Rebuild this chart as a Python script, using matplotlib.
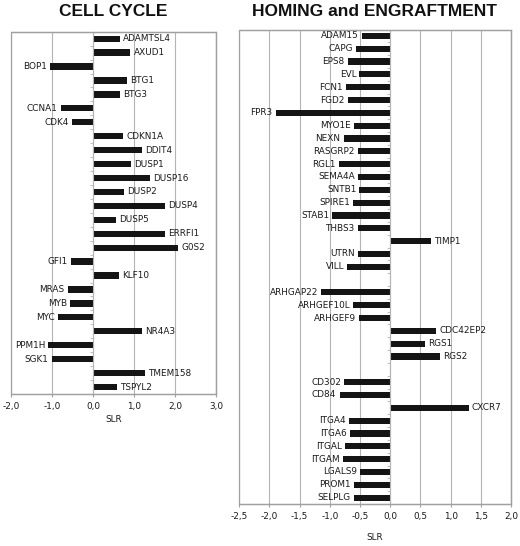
import numpy as np
import matplotlib
matplotlib.use("Agg")
import matplotlib.pyplot as plt
from matplotlib.patches import Rectangle
from matplotlib.ticker import FuncFormatter, MultipleLocator

# ---- data ----
cc_genes = ["ADAMTSL4", "AXUD1", "BOP1", "BTG1", "BTG3", "CCNA1", "CDK4", "CDKN1A",
            "DDIT4", "DUSP1", "DUSP16", "DUSP2", "DUSP4", "DUSP5", "ERRFI1", "G0S2",
            "GFI1", "KLF10", "MRAS", "MYB", "MYC", "NR4A3", "PPM1H", "SGK1",
            "TMEM158", "TSPYL2"]
cc_slr = [0.66, 0.91, -1.04, 0.82, 0.66, -0.78, -0.52, 0.74,
          1.20, 0.93, 1.39, 0.76, 1.76, 0.57, 1.75, 2.07,
          -0.54, 0.64, -0.62, -0.56, -0.85, 1.20, -1.09, -1.01,
          1.26, 0.59]

he_genes = ["ADAM15", "CAPG", "EPS8", "EVL", "FCN1", "FGD2", "FPR3", "MYO1E", "NEXN",
            "RASGRP2", "RGL1", "SEMA4A", "SNTB1", "SPIRE1", "STAB1", "THBS3", "TIMP1",
            "UTRN", "VILL", "",
            "ARHGAP22", "ARHGEF10L", "ARHGEF9", "CDC42EP2", "RGS1", "RGS2", "",
            "CD302", "CD84", "CXCR7", "ITGA4", "ITGA6", "ITGAL", "ITGAM", "LGALS9",
            "PROM1", "SELPLG"]
he_slr = [-0.47, -0.57, -0.70, -0.51, -0.73, -0.70, -1.90, -0.60, -0.77,
          -0.54, -0.85, -0.53, -0.51, -0.61, -0.96, -0.54, 0.67,
          -0.54, -0.71, np.nan,
          -1.14, -0.61, -0.52, 0.76, 0.57, 0.82, np.nan,
          -0.76, -0.84, 1.30, -0.69, -0.66, -0.75, -0.79, -0.50,
          -0.60, -0.60]

cc_title = "CELL CYCLE"
he_title = "HOMING and ENGRAFTMENT"
xlabel = "SLR"

# ---- style ----
W, H = 520, 546
fig = plt.figure(figsize=(W / 100, H / 100), dpi=100)
fig.patch.set_facecolor("white")

grid_c = "#b4b4b4"
frame_c = "#a0a0a0"
bar_c = "#141414"
txt_c = "#1a1a1a"
fs = 6.4

def px_axes(x0, y0, x1, y1):
    return fig.add_axes([x0 / W, 1 - y1 / H, (x1 - x0) / W, (y1 - y0) / H])

comma = FuncFormatter(lambda v, _: f"{v:.1f}".replace(".", ","))

def draw(ax, genes, vals, xmin, xmax, step, bar_h, labelpad):
    n = len(genes)
    y = np.arange(n)
    v = np.array(vals, dtype=float)
    ax.barh(y, v, height=bar_h, color=bar_c, zorder=2)
    for yi, gi, vi in zip(y, genes, v):
        if np.isnan(vi) or not gi:
            continue
        if vi >= 0:
            ax.annotate(gi, (vi, yi), xytext=(2.3, 0), textcoords="offset points",
                        ha="left", va="center", fontsize=fs, color=txt_c)
        else:
            ax.annotate(gi, (vi, yi), xytext=(-2.3, 0), textcoords="offset points",
                        ha="right", va="center", fontsize=fs, color=txt_c)
    ax.set_xlim(xmin, xmax)
    ax.set_ylim(n - 0.5, -0.5)
    ax.xaxis.set_major_locator(MultipleLocator(step))
    ax.xaxis.set_major_formatter(comma)
    ax.grid(axis="x", color=grid_c, linewidth=0.8, zorder=0)
    ax.set_axisbelow(True)
    # category axis at zero
    ax.spines["left"].set_position(("data", 0))
    ax.spines["left"].set_color(grid_c)
    ax.spines["left"].set_linewidth(0.8)
    ax.set_yticks(np.arange(-0.5, n, 1.0))
    ax.set_yticklabels([])
    ax.tick_params(axis="y", length=2, width=0.6, color=grid_c, direction="out")
    for s in ("top", "right", "bottom"):
        ax.spines[s].set_color(frame_c)
        ax.spines[s].set_linewidth(0.9)
    ax.add_patch(Rectangle((0, 0), 1, 1, transform=ax.transAxes, fill=False,
                           edgecolor=frame_c, linewidth=0.9, clip_on=False, zorder=3))
    ax.tick_params(axis="x", length=2.5, width=0.8, color=frame_c, pad=3,
                   labelsize=fs, labelcolor=txt_c)
    ax.set_xlabel(xlabel, fontsize=fs, color=txt_c, labelpad=labelpad)
    ax.set_facecolor("white")

ax1 = px_axes(11, 31.7, 216, 394)
draw(ax1, cc_genes, cc_slr, -2.0, 3.0, 1.0, 0.45, 3.5)

ax2 = px_axes(239.3, 29.5, 511, 504)
draw(ax2, he_genes, he_slr, -2.5, 2.0, 0.5, 0.48, 9)

fig.text(113.5 / W, 1 - 11 / H, cc_title, ha="center", va="center",
         fontsize=12.5, fontweight="bold", family="Liberation Sans", color="#111111")
fig.text(375 / W, 1 - 11 / H, he_title, ha="center", va="center",
         fontsize=12.5, fontweight="bold", family="Liberation Sans", color="#111111")

fig.savefig("out.png", dpi=100, facecolor="white")
